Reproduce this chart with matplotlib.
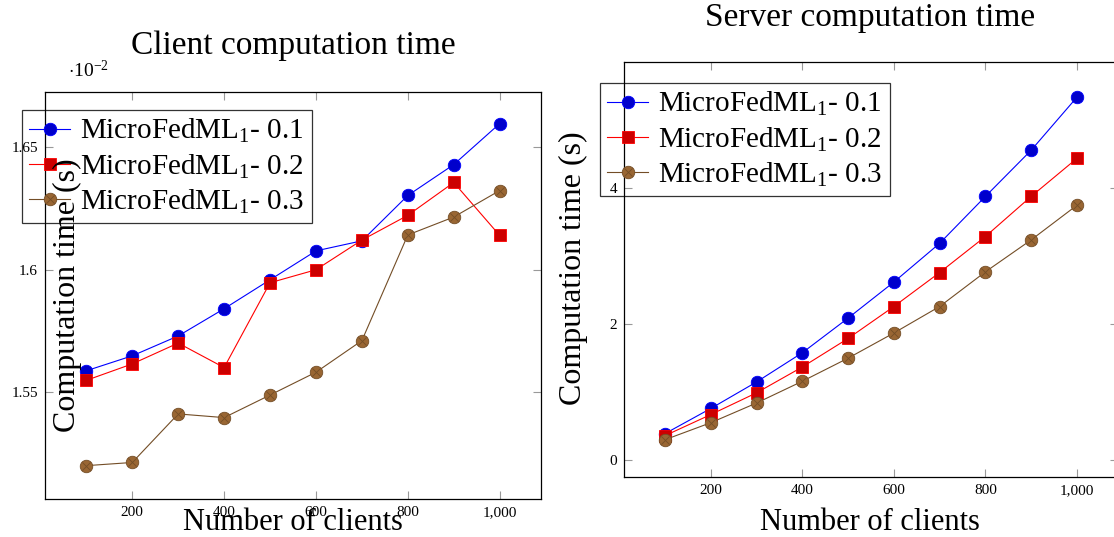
import numpy as np
import matplotlib
matplotlib.use("Agg")
import matplotlib.pyplot as plt
from matplotlib.legend_handler import HandlerTuple

plt.rcParams['font.family'] = ['Liberation Serif', 'DejaVu Serif']
plt.rcParams['mathtext.fontset'] = 'custom'
plt.rcParams['mathtext.rm'] = 'Liberation Serif'
plt.rcParams['mathtext.it'] = 'Liberation Serif:italic'

# Datos
clients = [100, 200, 300, 400, 500, 600, 700, 800, 900, 1000]

# tiempo cliente (x 10^-2 s)
client_01 = [1.5588, 1.5649, 1.5730, 1.5841, 1.5959, 1.6077, 1.6118, 1.6303, 1.6429, 1.6596]
client_02 = [1.5549, 1.5616, 1.5701, 1.5601, 1.5947, 1.6000, 1.6121, 1.6222, 1.6356, 1.6140]
client_03 = [1.5201, 1.5214, 1.5412, 1.5397, 1.5489, 1.5582, 1.5711, 1.6142, 1.6215, 1.6323]

# tiempo servidor (s)
server_01 = [0.39, 0.76, 1.15, 1.58, 2.09, 2.62, 3.19, 3.88, 4.56, 5.34]
server_02 = [0.36, 0.67, 0.99, 1.37, 1.79, 2.26, 2.76, 3.29, 3.88, 4.44]
server_03 = [0.30, 0.55, 0.84, 1.16, 1.50, 1.87, 2.26, 2.77, 3.24, 3.75]

labels = [r'MicroFedML$_1$- 0.1', r'MicroFedML$_1$- 0.2', r'MicroFedML$_1$- 0.3']

blue_line, blue_fill = '#0000ff', '#0000cc'
red_line, red_fill = '#ff0000', '#cc0000'
brown_line, brown_fill = '#734d26', '#996633'

TITLE = 24
LABEL = 22
YLABEL = 23
LEG = 21
TICK = 11


def draw(ax, s1, s2, s3):
    h1, = ax.plot(clients, s1, '-o', color=blue_line, lw=0.8, ms=9,
                  mfc=blue_fill, mec=blue_line, mew=0.6, clip_on=False)
    h2, = ax.plot(clients, s2, '-s', color=red_line, lw=0.8, ms=8.5,
                  mfc=red_fill, mec=red_line, mew=0.6, clip_on=False)
    h3, = ax.plot(clients, s3, '-o', color=brown_line, lw=0.8, ms=9,
                  mfc=brown_fill, mec=brown_line, mew=0.6, clip_on=False)
    h3x, = ax.plot(clients, s3, 'x', color=brown_line, ms=6, mew=0.6,
                   linestyle='none', clip_on=False)
    ax.set_xlim(10, 1090)
    ax.set_xticks([200, 400, 600, 800, 1000])
    ax.set_xticklabels(['200', '400', '600', '800', '1,000'])
    ax.tick_params(direction='in', length=6, color='#999999', labelsize=TICK,
                   top=True, right=True, width=0.8, pad=5)
    for sp in ax.spines.values():
        sp.set_linewidth(0.9)
    return [h1, h2, (h3, h3x)]


def legend(ax, hs, x, y):
    leg = ax.legend(hs, labels, handler_map={tuple: HandlerTuple(ndivide=1, pad=0)},
                    loc='upper left', bbox_to_anchor=(x / W, 1 - y / H),
                    bbox_transform=fig.transFigure, borderaxespad=0, fontsize=LEG,
                    frameon=True, fancybox=False, edgecolor='black', facecolor='none',
                    labelspacing=0.24, handlelength=1.4, handletextpad=0.35,
                    borderpad=0.25)
    leg.get_frame().set_linewidth(0.9)
    return leg


fig = plt.figure(figsize=(11.14, 5.37), dpi=100)
W, H = 1114, 537


def axes_px(x0, x1, y0, y1):
    return fig.add_axes([x0 / W, 1 - y1 / H, (x1 - x0) / W, (y1 - y0) / H])


# Cliente
ax1 = axes_px(45, 541, 92, 499)
hs = draw(ax1, client_01, client_02, client_03)
ax1.set_ylim(1.5065, 1.6725)
ax1.set_yticks([1.55, 1.6, 1.65])
ax1.set_yticklabels(['1.55', '1.6', '1.65'])
legend(ax1, hs, 22, 110)
fig.text(88 / W, 1 - 70 / H, r'$\cdot 10^{-2}$', fontsize=14, ha='center', va='center')
fig.text(293 / W, 1 - 46 / H, 'Client computation time', fontsize=TITLE, ha='center', va='center')
fig.text(293 / W, 1 - 523 / H, 'Number of clients', fontsize=LABEL, ha='center', va='center')
fig.text(67 / W, 1 - 295 / H, 'Computation time (s)', fontsize=YLABEL, rotation=90,
         ha='center', va='center')

# Servidor
ax2 = axes_px(624, 1118, 62, 477)
hs = draw(ax2, server_01, server_02, server_03)
ax2.set_ylim(-0.25, 5.86)
ax2.set_yticks([0, 2, 4])
legend(ax2, hs, 600, 83)
fig.text(870 / W, 1 - 18 / H, 'Server computation time', fontsize=TITLE, ha='center', va='center')
fig.text(870 / W, 1 - 523 / H, 'Number of clients', fontsize=LABEL, ha='center', va='center')
fig.text(573 / W, 1 - 268 / H, 'Computation time (s)', fontsize=YLABEL, rotation=90,
         ha='center', va='center')

fig.savefig('out.png', dpi=100)
